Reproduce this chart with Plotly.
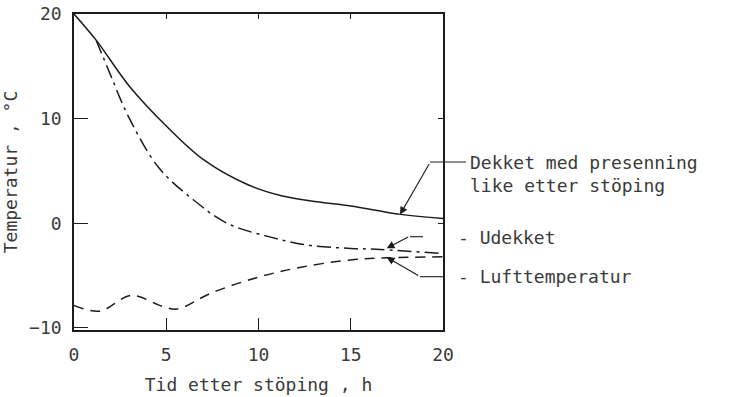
import plotly.graph_objects as go

# Data
dekket_x = [0, 1.2, 3, 5, 7, 9.4, 11.3, 13.2, 15, 17.7, 20]
dekket_y = [20, 17.5, 13.1, 9.3, 6.1, 3.7, 2.6, 2.05, 1.65, 0.85, 0.45]

udekket_x = [1.2, 1.95, 2.95, 4.6, 6.5, 8.3, 10.6, 12.7, 15, 16.6, 20]
udekket_y = [17.5, 14.3, 10.2, 5.3, 2.2, 0, -1.3, -2.1, -2.4, -2.5, -2.9]

luft_x = [0, 1.4, 3.1, 4.8, 5.6, 7.4, 9.9, 12.3, 15, 17, 20]
luft_y = [-7.85, -8.4, -6.9, -7.95, -8.2, -6.7, -5.2, -4.2, -3.5, -3.3, -3.2]

x_ticks = [0, 5, 10, 15, 20]
y_ticks = [-10, 0, 10, 20]

x_title = "Tid etter stöping , h"
y_title = "Temperatur , °C"
label_dekket = "Dekket med presenning<br>like etter stöping"
label_udekket = "- Udekket"
label_luft = "- Lufttemperatur"

INK = "#1c1c1c"
TXT = "#3a3a3a"
FONT = "DejaVu Sans Mono"

fig = go.Figure()
fig.add_trace(go.Scatter(x=dekket_x, y=dekket_y, mode="lines",
                         line=dict(color=INK, width=1.5, shape="spline", smoothing=1.0),
                         name="Dekket", showlegend=False))
fig.add_trace(go.Scatter(x=udekket_x, y=udekket_y, mode="lines",
                         line=dict(color=INK, width=1.5, shape="spline", smoothing=1.0,
                                   dash="14px,5px,3px,5px"),
                         name="Udekket", showlegend=False))
fig.add_trace(go.Scatter(x=luft_x, y=luft_y, mode="lines",
                         line=dict(color=INK, width=1.5, shape="spline", smoothing=1.0,
                                   dash="10px,7px"),
                         name="Luft", showlegend=False))

tick_font = dict(family=FONT, size=18, color=TXT)
title_font = dict(family=FONT, size=18, color=TXT)

fig.update_layout(
    width=740, height=397,
    margin=dict(l=74, r=297, t=14, b=67, autoexpand=False),
    paper_bgcolor="white", plot_bgcolor="white",
    font=dict(family=FONT, color=TXT),
    xaxis=dict(range=[0, 20], tickvals=x_ticks, ticklen=12, mirror=True, automargin=False,
               showgrid=False, zeroline=False, linecolor=INK, linewidth=1.6,
               ticks="inside", tickcolor=INK, tickwidth=1.2, tickfont=tick_font,
               ticklabelstandoff=8, ticklabeloverflow="allow",
               title=dict(text=x_title, font=title_font, standoff=14)),
    yaxis=dict(range=[-10.2, 20], tickvals=y_ticks, ticklen=14, mirror=True, automargin=False,
               showgrid=False, zeroline=False, linecolor=INK, linewidth=1.6,
               ticks="inside", tickcolor=INK, tickwidth=1.2, tickfont=tick_font,
               ticklabelstandoff=7, ticklabeloverflow="allow",
               title=dict(text=y_title, font=title_font, standoff=12)),
    xaxis2=dict(overlaying="x", side="top", range=[0, 20], tickvals=[5, 10, 15],
                ticks="inside", ticklen=5, tickcolor=INK, showticklabels=False,
                showgrid=False, zeroline=False, showline=False, automargin=False),
    yaxis2=dict(overlaying="y", side="right", range=[-10.2, 20], tickvals=[0, 10],
                ticks="inside", ticklen=5, tickcolor=INK, showticklabels=False,
                showgrid=False, zeroline=False, showline=False, automargin=False),
)
# invisible trace to activate the overlay axes
fig.add_trace(go.Scatter(x=[0], y=[0], xaxis="x2", yaxis="y2", mode="markers",
                         marker=dict(opacity=0), showlegend=False, hoverinfo="skip"))

# Leader arrows
arrow_style = dict(showarrow=True, arrowhead=2, arrowsize=1.4, arrowwidth=1.1,
                   arrowcolor=INK, text="", xref="x", yref="y", axref="pixel", ayref="pixel")
fig.add_annotation(x=17.67, y=0.83, ax=30, ay=-52, **arrow_style)
fig.add_annotation(x=16.95, y=-2.39, ax=23, ay=-12, **arrow_style)
fig.add_annotation(x=16.95, y=-3.25, ax=33, ay=19, **arrow_style)

# Horizontal parts of leader lines (paper coordinates, pixels -> plot fraction)
px0, pw, py0, ph = 74, 369, 330, 316
def pxx(p):
    return (p - px0) / pw
def pyy(p):
    return (py0 - p) / ph
for (xa, xb, yy) in [(430, 466, 162), (410, 423, 236.7), (420, 443, 276.7)]:
    fig.add_shape(type="line", xref="paper", yref="paper",
                  x0=pxx(xa), x1=pxx(xb), y0=pyy(yy), y1=pyy(yy),
                  line=dict(color=INK, width=1.1))

text_font = dict(family=FONT, size=18, color=TXT)
fig.add_annotation(x=pxx(468), y=pyy(174), xref="paper", yref="paper", text=label_dekket,
                   showarrow=False, xanchor="left", yanchor="middle", align="left",
                   font=text_font)
fig.add_annotation(x=pxx(456), y=pyy(237), xref="paper", yref="paper", text=label_udekket,
                   showarrow=False, xanchor="left", yanchor="middle", font=text_font)
fig.add_annotation(x=pxx(456), y=pyy(276), xref="paper", yref="paper", text=label_luft,
                   showarrow=False, xanchor="left", yanchor="middle", font=text_font)

# remove the browser's default body margin so the figure sits at the window origin
fig.write_html("out.html", config={"displayModeBar": False},
               post_script="document.body.style.margin='0px';")
